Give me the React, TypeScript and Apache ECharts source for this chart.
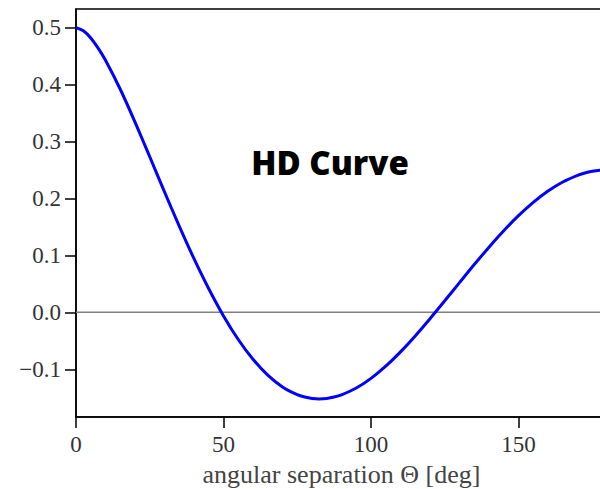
import React, { useEffect, useRef } from "react";
import * as echarts from "echarts";

const angles = [0, 2.5, 5, 7.5, 10, 15, 20, 25, 30, 35, 40, 45, 50, 55, 60, 65, 70, 75, 77.5, 80, 82.5, 85, 87.5, 90, 95, 100, 105, 110, 115, 120, 125, 130, 135, 140, 145, 150, 155, 160, 165, 170, 172.5, 175, 177.5, 180];
const hdValues = [0.5, 0.4944, 0.4817, 0.4639, 0.4425, 0.3917, 0.3341, 0.2732, 0.2116, 0.1514, 0.0942, 0.0414, -0.0062, -0.0476, -0.0824, -0.1102, -0.1309, -0.1445, -0.1486, -0.1511, -0.1519, -0.1511, -0.1487, -0.1449, -0.1329, -0.1159, -0.0945, -0.0693, -0.0413, -0.0111, 0.0203, 0.0522, 0.0839, 0.1145, 0.1433, 0.1697, 0.1931, 0.213, 0.2289, 0.2406, 0.2447, 0.2476, 0.2494, 0.25];
const zeroLine = [[0, 0], [180, 0]];
const xTicks = [0, 50, 100, 150];
const yTicks = [-0.1, 0, 0.1, 0.2, 0.3, 0.4, 0.5];
const title = "HD Curve";
const xLabel = "angular separation Θ [deg]";

const serif = "'Liberation Serif', 'DejaVu Serif', serif";

export default function App() {
  const ref = useRef<HTMLDivElement>(null);
  useEffect(() => {
    if (!ref.current) return;
    const chart = echarts.init(ref.current, null, { renderer: "svg" });
    chart.setOption({
      animation: false,
      backgroundColor: "#ffffff",
      grid: {
        left: 76,
        top: 9,
        right: -7,
        bottom: 72,
        containLabel: false,
        outerBoundsMode: "none",
        show: true,
        borderColor: "#000",
        borderWidth: 1.5,
      },
      graphic: [
        {
          type: "text",
          x: 330,
          y: 162,
          z: 10,
          style: {
            text: title,
            fill: "#000",
            font: "800 33px 'Open Sans', sans-serif",
            textAlign: "center",
            textVerticalAlign: "middle",
          },
        },
      ],
      xAxis: {
        type: "value",
        min: 0,
        max: 180,
        name: xLabel,
        nameLocation: "middle",
        nameGap: 44,
        nameTextStyle: { fontFamily: serif, fontSize: 26, color: "#444" },
        axisLine: { show: true, onZero: false, lineStyle: { color: "#000", width: 1.5 } },
        axisTick: { show: true, length: 11, lineStyle: { color: "#000", width: 1.5 }, customValues: xTicks },
        axisLabel: { fontFamily: serif, fontSize: 23, color: "#333", margin: 16, customValues: xTicks },
        splitLine: { show: false },
      },
      yAxis: {
        type: "value",
        min: -0.1837,
        max: 0.5326,
        axisLine: { show: true, onZero: false, lineStyle: { color: "#000", width: 1.5 } },
        axisTick: { show: true, length: 11, lineStyle: { color: "#000", width: 1.5 }, customValues: yTicks },
        axisLabel: {
          fontFamily: serif,
          fontSize: 23,
          color: "#333",
          margin: 15,
          customValues: yTicks,
          formatter: (v: number) => (v < 0 ? "\u2212" + Math.abs(v).toFixed(1) : v.toFixed(1)),
        },
        splitLine: { show: false },
      },
      series: [
        {
          type: "line",
          data: zeroLine,
          symbol: "none",
          lineStyle: { color: "#808080", width: 1.5 },
          silent: true,
        },
        {
          type: "line",
          data: angles.map((a, i) => [a, hdValues[i]]),
          symbol: "none",
          smooth: 0.3,
          lineStyle: { color: "#0000ff", width: 3 },
        },
      ],
    });
    return () => chart.dispose();
  }, []);
  return <div ref={ref} style={{ width: 600, height: 489, position: "absolute", left: 0, top: 0 }} />;
}
